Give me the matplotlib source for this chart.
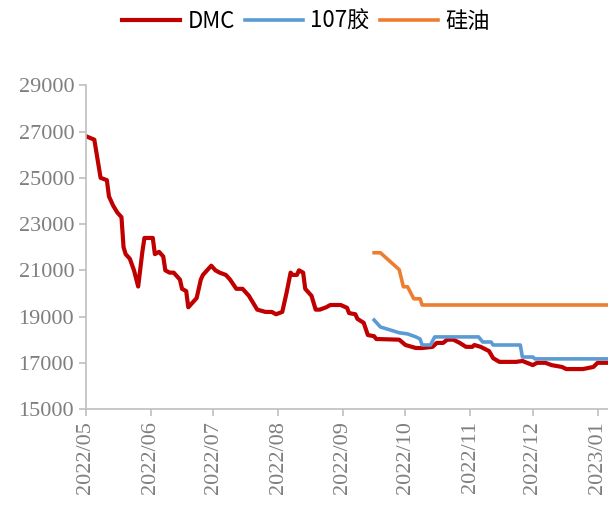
import pandas as pd
import matplotlib
matplotlib.use('Agg')
import matplotlib.pyplot as plt
import matplotlib.dates as mdates

# DMC价格
dmc_dates = ['2022-05-01', '2022-05-05', '2022-05-08', '2022-05-11', '2022-05-12', '2022-05-14',
             '2022-05-16', '2022-05-18', '2022-05-19', '2022-05-20', '2022-05-22', '2022-05-24',
             '2022-05-26', '2022-05-28', '2022-05-29', '2022-06-02', '2022-06-03', '2022-06-05',
             '2022-06-07', '2022-06-08', '2022-06-10', '2022-06-12', '2022-06-15', '2022-06-16',
             '2022-06-18', '2022-06-19', '2022-06-21', '2022-06-23', '2022-06-25', '2022-06-26',
             '2022-06-28', '2022-06-30', '2022-07-02', '2022-07-04', '2022-07-07', '2022-07-09',
             '2022-07-12', '2022-07-15', '2022-07-18', '2022-07-20', '2022-07-22', '2022-07-26',
             '2022-07-29', '2022-07-31', '2022-08-03', '2022-08-05', '2022-08-07', '2022-08-08',
             '2022-08-10', '2022-08-11', '2022-08-13', '2022-08-14', '2022-08-17', '2022-08-19',
             '2022-08-21', '2022-08-24', '2022-08-26', '2022-08-31', '2022-09-03', '2022-09-04',
             '2022-09-07', '2022-09-08', '2022-09-11', '2022-09-13', '2022-09-16', '2022-09-17',
             '2022-09-28', '2022-10-01', '2022-10-06', '2022-10-09', '2022-10-14', '2022-10-16',
             '2022-10-19', '2022-10-21', '2022-10-24', '2022-10-27', '2022-10-30', '2022-11-02',
             '2022-11-03', '2022-11-06', '2022-11-10', '2022-11-12', '2022-11-15', '2022-11-23',
             '2022-11-26', '2022-12-01', '2022-12-03', '2022-12-07', '2022-12-10', '2022-12-15',
             '2022-12-17', '2022-12-25', '2022-12-30', '2023-01-01', '2023-01-06']
dmc_values = [26800, 26650, 25000, 24900, 24200, 23800,
              23500, 23300, 22000, 21700, 21500, 21000,
              20300, 21800, 22400, 22400, 21700, 21800,
              21600, 21000, 20900, 20900, 20600, 20200,
              20100, 19400, 19600, 19800, 20600, 20800,
              21000, 21200, 21000, 20900, 20800, 20600,
              20200, 20200, 19900, 19600, 19300, 19200,
              19200, 19100, 19200, 20000, 20900, 20800,
              20800, 21000, 20900, 20200, 19900, 19300,
              19300, 19400, 19500, 19500, 19380, 19150,
              19100, 18900, 18730, 18200, 18150, 18030,
              18000, 17770, 17640, 17640, 17690, 17860,
              17860, 18000, 18000, 17860, 17690, 17690,
              17770, 17690, 17510, 17200, 17040, 17040,
              17080, 16900, 17000, 17000, 16900, 16820,
              16730, 16730, 16820, 17000, 17000]

# 107胶价格
glue_dates = ['2022-09-16', '2022-09-19', '2022-09-28', '2022-10-02', '2022-10-06', '2022-10-08',
              '2022-10-09', '2022-10-13', '2022-10-15', '2022-11-05', '2022-11-07', '2022-11-11',
              '2022-11-12', '2022-11-25', '2022-11-26', '2022-12-01', '2022-12-02', '2023-01-06']
glue_values = [18850, 18550, 18300, 18250, 18120, 18030,
               17770, 17770, 18120, 18120, 17900, 17900,
               17770, 17770, 17250, 17250, 17170, 17170]

# 硅油价格
oil_dates = ['2022-09-16', '2022-09-19', '2022-09-28', '2022-09-30', '2022-10-02', '2022-10-05',
             '2022-10-08', '2022-10-09', '2023-01-06']
oil_values = [21760, 21760, 21030, 20290, 20290, 19770, 19770, 19500, 19500]

tick_color = '#7F7F7F'
spine_color = '#BFBFBF'

fig = plt.figure(figsize=(6.08, 5.05), dpi=100)
ax = fig.add_axes([0.1414, 0.19, 0.8586, 0.641])

ax.plot(pd.to_datetime(dmc_dates), dmc_values, color='#C00000', lw=3.0, label='DMC')
ax.plot(pd.to_datetime(glue_dates), glue_values, color='#5B9BD5', lw=2.6, label='107胶')
ax.plot(pd.to_datetime(oil_dates), oil_values, color='#ED7D31', lw=2.6, label='硅油')

ax.set_xlim(pd.Timestamp('2022-05-01'), pd.Timestamp('2023-01-06'))
ax.set_ylim(15000, 29000)
ax.set_yticks(range(15000, 29001, 2000))
ax.xaxis.set_major_locator(mdates.MonthLocator())
ax.xaxis.set_major_formatter(mdates.DateFormatter('%Y/%m'))

for s in ['top', 'right']:
    ax.spines[s].set_visible(False)
for s in ['left', 'bottom']:
    ax.spines[s].set_color(spine_color)
    ax.spines[s].set_linewidth(1.2)

ax.tick_params(axis='both', direction='out', length=5, width=1.2, color=spine_color,
               labelcolor=tick_color, labelsize=16)
for lab in ax.get_xticklabels() + ax.get_yticklabels():
    lab.set_fontfamily('Liberation Serif')
for lab in ax.get_xticklabels():
    lab.set_rotation(90)

# 图例放在顶部居中
fig.legend(loc='center', bbox_to_anchor=(0.503, 0.958), ncol=3, frameon=False,
           prop={'family': ['Noto Sans CJK SC', 'DejaVu Sans'], 'size': 16},
           handlelength=2.6, handletextpad=0.35, columnspacing=0.45)

fig.savefig('out.png', dpi=100)
